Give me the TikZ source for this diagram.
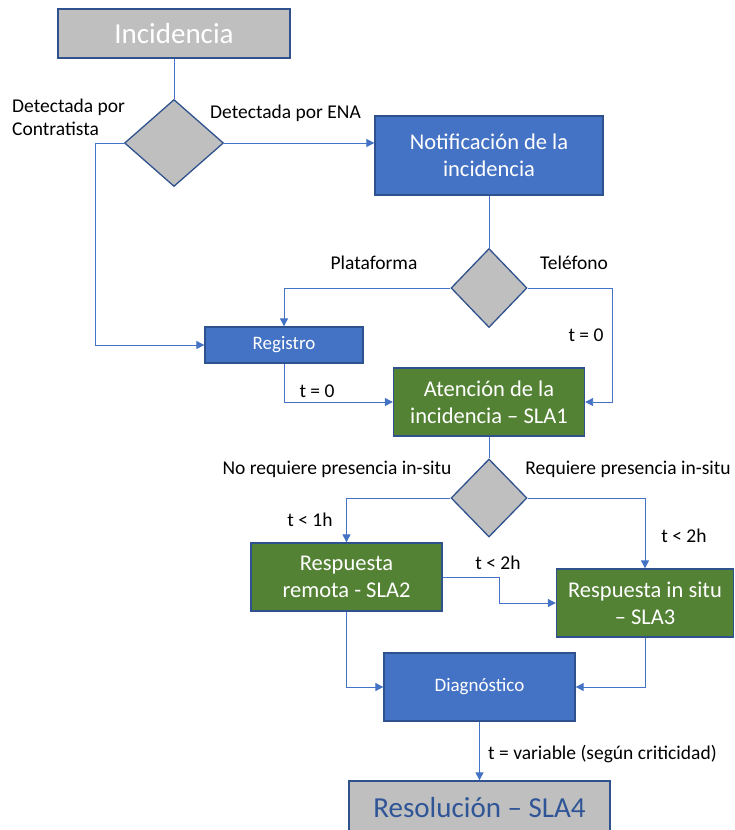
\documentclass[tikz,border=0pt]{standalone}
\usepackage{fontspec}
\setmainfont{Carlito}
\usetikzlibrary{shapes.geometric,arrows.meta,calc}
\definecolor{bfill}{HTML}{4472C4}
\definecolor{bdraw}{HTML}{2F528F}
\definecolor{gfill}{HTML}{548235}
\definecolor{grfill}{HTML}{BFBFBF}
\definecolor{lnk}{HTML}{4472C4}
\definecolor{restext}{HTML}{2F5597}
\begin{document}
\begin{tikzpicture}[x=1pt,y=-1pt,
  box/.style={draw=bdraw,line width=1.3pt,inner sep=0pt,align=center,text=white},
  graybox/.style={box,fill=grfill},
  bluebox/.style={box,fill=bfill},
  greenbox/.style={box,fill=gfill},
  dec/.style={diamond,draw=bdraw,line width=1.3pt,fill=grfill,inner sep=0pt,aspect=1},
  arr/.style={draw=lnk,line width=0.9pt,-{Triangle[length=8pt,width=8pt]}},
  ln/.style={draw=lnk,line width=0.9pt},
  lbl/.style={font=\fontsize{19.5}{23}\selectfont,inner sep=0pt},
  big/.style={font=\fontsize{29}{34}\selectfont},
  mid/.style={font=\fontsize{22.5}{27}\selectfont},
  small/.style={font=\fontsize{19}{23}\selectfont}
]
\useasboundingbox (0,0) rectangle (735,830);

\node[graybox,big,minimum width=232pt,minimum height=49pt] (inc) at (174,33.5) {Incidencia};
\node[dec,minimum width=99pt,minimum height=87pt] (d1) at (174,143) {};
\node[bluebox,mid,minimum width=228pt,minimum height=79pt] (notif) at (489,155.5) {Notificación de la\\incidencia};
\node[dec,minimum width=76pt,minimum height=79pt] (d2) at (489,288) {};
\node[bluebox,small,minimum width=158pt,minimum height=36pt] (reg) at (284,345) {Registro};
\node[greenbox,mid,minimum width=191pt,minimum height=68pt] (aten) at (489,402) {Atención de la\\incidencia – SLA1};
\node[dec,minimum width=76pt,minimum height=78pt] (d3) at (489,498) {};
\node[greenbox,mid,minimum width=191pt,minimum height=68pt] (remota) at (346.5,577) {Respuesta\\remota - SLA2};
\node[greenbox,mid,minimum width=177pt,minimum height=68pt] (insitu) at (645,603) {Respuesta in situ\\– SLA3};
\node[bluebox,small,minimum width=191pt,minimum height=68pt] (diag) at (479.5,687) {Diagnóstico};
\node[graybox,big,text=restext,minimum width=261pt,minimum height=54pt] (res) at (479.5,808) {Resolución – SLA4};

% connectors
\draw[ln] (inc.south) -- (d1.north);
\draw[arr] (d1.west) -- ++(-28,0) |- (reg.west);
\draw[arr] (d1.east) -- (d1.east -| notif.west);
\draw[ln] (notif.south) -- (d2.north);
\draw[arr] (d2.west) -| (reg.north);
\draw[arr] (d2.east) -- ++(85,0) |- (aten.east);
\draw[arr] (reg.south) |- (aten.west);
\draw[ln] (aten.south) -- (d3.north);
\draw[arr] (d3.west) -| (remota.north);
\draw[arr] (d3.east) -| (insitu.north);
\draw[arr] (remota.east) -- ++(57,0) |- (insitu.west);
\draw[arr] (remota.south) |- (diag.west);
\draw[arr] (insitu.south) |- (diag.east);
\draw[arr] (diag.south) -- (res.north);

% labels
\node[lbl,align=left,anchor=west] (lc) at (12,117) {Detectada por\\Contratista};
\node[lbl] (le) at (285.5,113) {Detectada por ENA};
\node[lbl] (lp) at (374,263) {Plataforma};
\node[lbl] (lt) at (574,263) {Teléfono};
\node[lbl] (lt0a) at (586,335) {t = 0};
\node[lbl] (lt0b) at (317,391) {t = 0};
\node[lbl] (lno) at (337,469) {No requiere presencia in-situ};
\node[lbl] (lsi) at (628,469) {Requiere presencia in-situ};
\node[lbl] (l1h) at (310,520) {t < 1h};
\node[lbl] (l2ha) at (684,536) {t < 2h};
\node[lbl] (l2hb) at (498,563) {t < 2h};
\node[lbl,anchor=west] (lvar) at (488,754) {t = variable (según criticidad)};
\end{tikzpicture}
\end{document}
